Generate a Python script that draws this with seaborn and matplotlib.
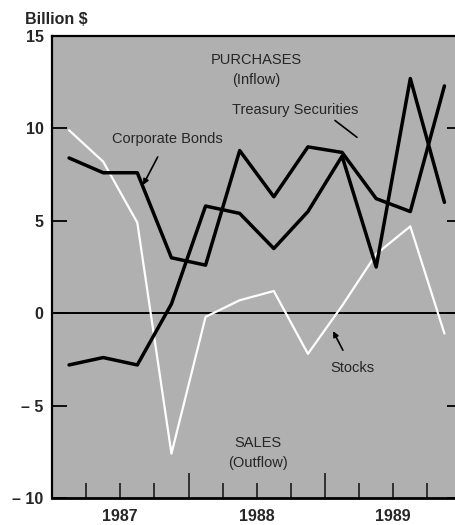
import matplotlib
matplotlib.use("Agg")
import matplotlib.pyplot as plt
import numpy as np
import pandas as pd
import seaborn as sns

# ---- data (billion $, quarterly) ----
quarters = ["1987Q1", "1987Q2", "1987Q3", "1987Q4",
            "1988Q1", "1988Q2", "1988Q3", "1988Q4",
            "1989Q1", "1989Q2", "1989Q3", "1989Q4"]
corporate_bonds = [8.4, 7.6, 7.6, 3.0, 2.6, 8.8, 6.3, 9.0, 8.7, 6.2, 5.5, 12.3]
treasury_securities = [-2.8, -2.4, -2.8, 0.5, 5.8, 5.4, 3.5, 5.5, 8.5, 2.5, 12.7, 6.0]
stocks = [9.9, 8.2, 4.9, -7.6, -0.2, 0.7, 1.2, -2.2, 0.4, 3.2, 4.7, -1.1]

year_labels = ["1987", "1988", "1989"]
y_ticks = [15, 10, 5, 0, -5, -10]
y_tick_labels = ["15", "10", "5", "0", "\u2013 5", "\u2013 10"]

# quarter -> decimal year at mid-quarter
t = [int(q[:4]) + (int(q[-1]) - 0.5) / 4 for q in quarters]
df = pd.DataFrame({"t": t, "Corporate Bonds": corporate_bonds,
                   "Treasury Securities": treasury_securities, "Stocks": stocks})

sns.set_style("white")
plt.rcParams["font.family"] = ["Liberation Sans", "DejaVu Sans"]
narrow = ["Liberation Sans Narrow", "Liberation Sans", "DejaVu Sans"]

fig = plt.figure(figsize=(4.55, 5.25), dpi=100)
W, H = 455, 525
ax = fig.add_axes([52 / W, (H - 498) / H, (461.5 - 52) / W, (498 - 36) / H])
ax.set_facecolor("#b0b0b0")

ax.axhline(0, color="black", lw=1.4, zorder=1)

sns.lineplot(data=df, x="t", y="Stocks", ax=ax, color="white", lw=1.6, zorder=2)
sns.lineplot(data=df, x="t", y="Treasury Securities", ax=ax, color="black", lw=2.5, zorder=3)
sns.lineplot(data=df, x="t", y="Corporate Bonds", ax=ax, color="black", lw=2.5, zorder=3)

ax.set_xlim(1987, 1990)
ax.set_ylim(-10, 15)
ax.set_xlabel("")
ax.set_ylabel("")

for s in ax.spines.values():
    s.set_visible(True)
    s.set_color("black")
    s.set_linewidth(1.6)
ax.spines["bottom"].set_linewidth(2.0)

ax.set_yticks(y_ticks)
ax.set_yticklabels(y_tick_labels, fontsize=11.5, fontweight="bold")
ax.tick_params(axis="y", direction="in", length=11, width=1.3, pad=6,
               left=True, right=True, color="black")

years = [int(y) for y in year_labels]
major_x = [y for y in years[1:]]
minor_x = [y + q / 4 for y in years for q in (1, 2, 3)]
ax.set_xticks(major_x)
ax.set_xticklabels([""] * len(major_x))
ax.set_xticks(minor_x, minor=True)
ax.set_xticklabels([str(int(m)) if abs((m % 1) - 0.5) < 1e-9 else "" for m in minor_x],
                   minor=True, fontsize=11.5, fontweight="bold")
ax.tick_params(axis="x", which="major", direction="in", length=18, width=1.3, bottom=True)
ax.tick_params(axis="x", which="minor", direction="in", length=11, width=1.3, bottom=True, pad=8)

# annotations
fs = 10.5
ax.text(1988.494, 13.7, "PURCHASES", ha="center", va="center", fontsize=fs, family=narrow)
ax.text(1988.494, 12.6, "(Inflow)", ha="center", va="center", fontsize=fs, family=narrow)
ax.text(1988.78, 11.0, "Treasury Securities", ha="center", va="center", fontsize=fs, family=narrow)
ax.plot([1989.073, 1989.234], [10.43, 9.52], color="black", lw=1.2)
ax.annotate("Corporate Bonds", xy=(1987.667, 6.94), xytext=(1987.842, 9.41),
            ha="center", va="center", fontsize=fs, family=narrow,
            arrowprops=dict(arrowstyle="-|>", color="black", lw=1.2, mutation_scale=8,
                            shrinkA=6, shrinkB=0))
ax.annotate("Stocks", xy=(1989.059, -0.97), xytext=(1989.198, -2.96),
            ha="center", va="center", fontsize=fs, family=narrow,
            arrowprops=dict(arrowstyle="-|>", color="black", lw=1.2, mutation_scale=8,
                            shrinkA=6, shrinkB=0))
ax.text(1988.509, -7.0, "SALES", ha="center", va="center", fontsize=fs, family=narrow)
ax.text(1988.509, -8.1, "(Outflow)", ha="center", va="center", fontsize=fs, family=narrow)

fig.text(25 / W, 1 - 20 / H, "Billion $", ha="left", va="center",
         fontsize=11.5, fontweight="bold")

fig.savefig("out.png", dpi=100, facecolor="white")
